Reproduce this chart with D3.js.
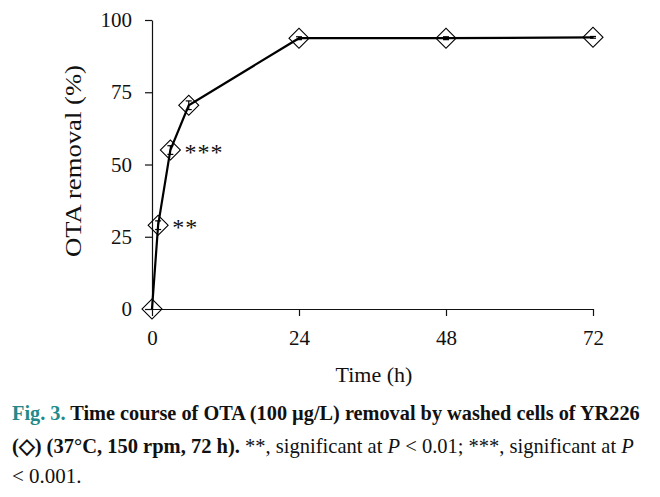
<!DOCTYPE html>
<html>
<head>
<meta charset="utf-8">
<script src="https://cdn.jsdelivr.net/npm/d3@7"></script>
<style>
  html, body { margin: 0; padding: 0; background: #fff; }
  svg { display: block; }
  text { font-family: "Liberation Serif", "Times New Roman", serif; fill: #111; }
</style>
</head>
<body>
<svg id="chart" width="660" height="497"></svg>
<script>
// ---- data ----
const timeHours = [0, 1, 3, 6, 24, 48, 72];
const removalPct = [0, 29, 55, 70.5, 93.7, 93.7, 94.0];
const removalSd = [0, 1.5, 1.5, 1.5, 0.5, 0.5, 0.3];
const significance = ["", "**", "***", "", "", "", ""];
const xTicks = [0, 24, 48, 72];
const yTicks = [0, 25, 50, 75, 100];
const xLabel = "Time (h)";
const yLabel = "OTA removal (%)";

const svg = d3.select("#chart");
const x = d3.scaleLinear().domain([0, 72]).range([152, 593]);
const y = d3.scaleLinear().domain([0, 100]).range([309, 20]);

// axes
const yAxis = d3.axisLeft(y).tickValues(yTicks).tickSize(7).tickSizeOuter(0).tickPadding(13);
const xAxis = d3.axisBottom(x).tickValues(xTicks).tickSize(7).tickSizeOuter(0).tickPadding(14);

const gy = svg.append("g").attr("transform", `translate(${x(0)},0)`).call(yAxis);
const gx = svg.append("g").attr("transform", `translate(0,${y(0)})`).call(xAxis);
[gx, gy].forEach(g => {
  g.selectAll("path.domain").attr("stroke", "#111").attr("stroke-width", 1.2);
  g.selectAll(".tick line").attr("stroke", "#111").attr("stroke-width", 1.2);
  g.selectAll(".tick text").attr("font-size", 21).attr("font-family", "Liberation Serif").attr("fill", "#111");
});

// axis titles
svg.append("text").attr("x", 374).attr("y", 382).attr("text-anchor", "middle")
  .attr("font-size", 22).text(xLabel);
svg.append("text").attr("transform", "translate(81,161) rotate(-90)").attr("text-anchor", "middle")
  .attr("font-size", 23).attr("textLength", 192).attr("lengthAdjust", "spacingAndGlyphs").text(yLabel);

const pts = timeHours.map((t, i) => ({ t, v: removalPct[i], sd: removalSd[i], sig: significance[i] }));

// line
svg.append("path").datum(pts)
  .attr("d", d3.line().x(d => x(d.t)).y(d => y(d.v)))
  .attr("fill", "none").attr("stroke", "#000").attr("stroke-width", 2.2);

// error bars
const eb = svg.append("g").attr("stroke", "#000").attr("stroke-width", 1.2);
pts.filter(d => d.sd > 0).forEach(d => {
  eb.append("line").attr("x1", x(d.t)).attr("x2", x(d.t)).attr("y1", y(d.v - d.sd)).attr("y2", y(d.v + d.sd));
  [d.v - d.sd, d.v + d.sd].forEach(v => eb.append("line")
    .attr("x1", x(d.t) - 3).attr("x2", x(d.t) + 3).attr("y1", y(v)).attr("y2", y(v)));
});

// markers (open diamonds)
const diamond = d3.symbol().type(d3.symbolSquare).size(200);
svg.append("g").selectAll("path").data(pts).join("path")
  .attr("d", diamond)
  .attr("transform", d => `translate(${x(d.t)},${y(d.v)}) rotate(45)`)
  .attr("fill", "none").attr("stroke", "#000").attr("stroke-width", 1.1);

// significance marks
svg.append("g").selectAll("text").data(pts.filter(d => d.sig)).join("text")
  .attr("x", d => x(d.t) + 14)
  .attr("y", d => y(d.v) + 10)
  .attr("font-size", 24).attr("letter-spacing", 1)
  .text(d => d.sig);

// caption (each line fitted horizontally with a scale transform)
function fitLine(textSel, left, baseline, width) {
  const w = textSel.node().getComputedTextLength();
  textSel.attr("transform", `translate(${left},${baseline}) scale(${width / w},1)`);
}
const cap = svg.append("g");
const l1 = cap.append("text").attr("font-size", 22).attr("font-weight", "bold");
l1.append("tspan").attr("fill", "#23898a").text("Fig. 3.");
l1.append("tspan").text(" Time course of OTA (100 µg/L) removal by washed cells of YR226");
fitLine(l1, 12, 420, 628);

const l2 = cap.append("text").attr("font-size", 21);
l2.append("tspan").attr("font-weight", "bold").text("(\u25C7) (37°C, 150 rpm, 72 h).");
l2.append("tspan").text(" **, significant at ");
l2.append("tspan").attr("font-style", "italic").text("P");
l2.append("tspan").text(" < 0.01; ***, significant at ");
l2.append("tspan").attr("font-style", "italic").text("P");
fitLine(l2, 12, 453, 622);

cap.append("text").attr("x", 12).attr("y", 483).attr("font-size", 21).text("< 0.001.");
</script>
</body>
</html>
